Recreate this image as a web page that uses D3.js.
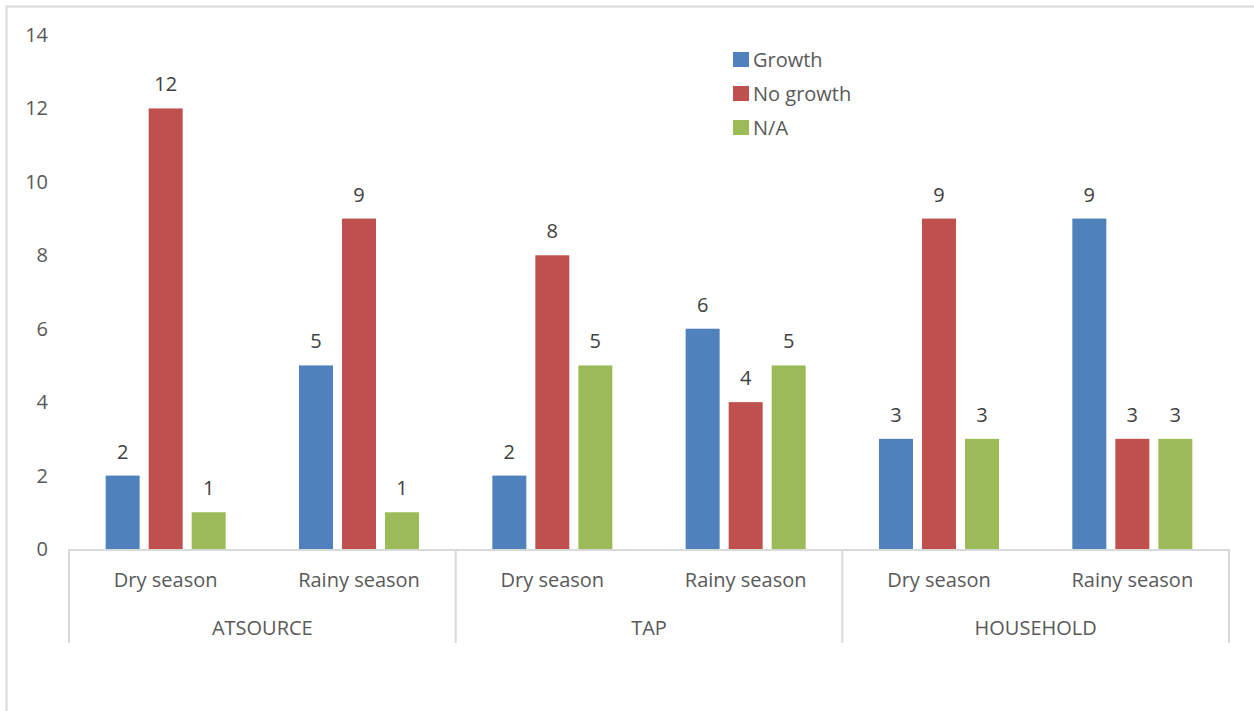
<!DOCTYPE html>
<html>
<head>
<meta charset="utf-8">
<script src="https://cdn.jsdelivr.net/npm/d3@7"></script>
<style>
  body { margin: 0; background: #fff; }
  svg text { font-family: "Open Sans", "Liberation Sans", sans-serif; }
</style>
</head>
<body>
<svg id="chart" width="1254" height="711"></svg>
<script>
const groups = ["ATSOURCE", "TAP", "HOUSEHOLD"];
const seasons = ["Dry season", "Rainy season"];
const seriesNames = ["Growth", "No growth", "N/A"];
const growth = [2, 5, 2, 6, 3, 9];
const noGrowth = [12, 9, 8, 4, 9, 3];
const notApplicable = [1, 1, 5, 5, 3, 3];
const yTicks = [0, 2, 4, 6, 8, 10, 12, 14];

const colours = ["#4f81bd", "#c0504d", "#9bbb59"];
const seriesValues = [growth, noGrowth, notApplicable];

// flat list of categories: group x season
const categories = groups.flatMap(g => seasons.map(s => `${g}|${s}`));

const svg = d3.select("#chart");

// chart border (only top/left visible in the reference)
svg.append("rect")
    .attr("x", 6.5).attr("y", 6.5)
    .attr("width", 1300).attr("height", 800)
    .attr("fill", "none")
    .attr("stroke", "#d9d9d9")
    .attr("stroke-width", 2);

const plotLeft = 69, plotRight = 1229, plotTop = 35, plotBottom = 549;
const fontSize = "20px";

const x = d3.scaleBand().domain(categories).range([plotLeft, plotRight]);
const xInner = d3.scaleBand()
    .domain(seriesNames)
    .range([x.bandwidth() / 2 - 60, x.bandwidth() / 2 + 60])
    .paddingInner(0.21);
const y = d3.scaleLinear().domain([0, 14]).range([plotBottom, plotTop]);

// y tick labels
svg.append("g").selectAll("text")
    .data(yTicks)
    .join("text")
    .attr("x", 48)
    .attr("y", d => y(d))
    .attr("dy", "0.35em")
    .attr("text-anchor", "end")
    .attr("fill", "#595959")
    .style("font-size", fontSize)
    .text(d => d);

// bars
const catGroups = svg.append("g").selectAll("g")
    .data(categories)
    .join("g")
    .attr("transform", d => `translate(${x(d)},0)`);

catGroups.each((cat, ci, n) => {
    const g = d3.select(n[ci]);
    const rows = seriesNames.map((name, si) => ({ name, value: seriesValues[si][ci], colour: colours[si] }));
    g.selectAll("rect")
        .data(rows)
        .join("rect")
        .attr("x", d => xInner(d.name))
        .attr("y", d => y(d.value))
        .attr("width", xInner.bandwidth())
        .attr("height", d => plotBottom - y(d.value))
        .attr("fill", d => d.colour);
    g.selectAll("text")
        .data(rows)
        .join("text")
        .attr("x", d => xInner(d.name) + xInner.bandwidth() / 2)
        .attr("y", d => y(d.value) - 17)
        .attr("text-anchor", "middle")
        .attr("fill", "#404040")
        .style("font-size", fontSize)
        .text(d => d.value);
});

// category axis
const axis = svg.append("g").attr("stroke", "#d9d9d9").attr("stroke-width", 2);
axis.append("line")
    .attr("x1", plotLeft).attr("x2", plotRight)
    .attr("y1", plotBottom + 1).attr("y2", plotBottom + 1);

const groupWidth = (plotRight - plotLeft) / groups.length;
d3.range(groups.length + 1).forEach(i => {
    axis.append("line")
        .attr("x1", plotLeft + i * groupWidth).attr("x2", plotLeft + i * groupWidth)
        .attr("y1", plotBottom).attr("y2", 643);
});

svg.append("g").selectAll("text")
    .data(categories)
    .join("text")
    .attr("x", d => x(d) + x.bandwidth() / 2)
    .attr("y", 587)
    .attr("text-anchor", "middle")
    .attr("fill", "#595959")
    .style("font-size", fontSize)
    .text(d => d.split("|")[1]);

svg.append("g").selectAll("text")
    .data(groups)
    .join("text")
    .attr("x", (d, i) => plotLeft + (i + 0.5) * groupWidth)
    .attr("y", 635)
    .attr("text-anchor", "middle")
    .attr("fill", "#595959")
    .style("font-size", fontSize)
    .text(d => d);

// legend
const legend = svg.append("g").attr("transform", "translate(733,52)");
const items = legend.selectAll("g")
    .data(seriesNames)
    .join("g")
    .attr("transform", (d, i) => `translate(0, ${i * 34})`);
items.append("rect")
    .attr("width", 16).attr("height", 15)
    .attr("fill", (d, i) => colours[i]);
items.append("text")
    .attr("x", 20).attr("y", 8)
    .attr("dy", "0.35em")
    .attr("fill", "#595959")
    .style("font-size", fontSize)
    .text(d => d);
</script>
</body>
</html>
